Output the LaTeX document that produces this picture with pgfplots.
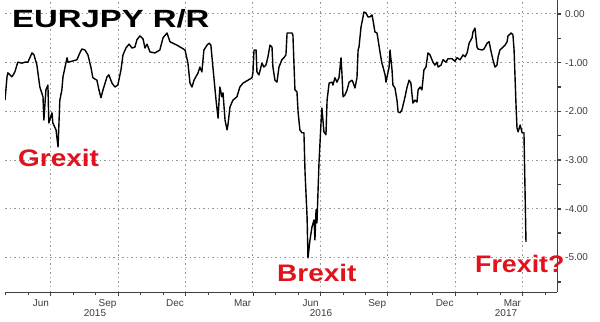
\documentclass[border=0pt]{standalone}
\usepackage{fontspec}
\setmainfont{Liberation Sans}
\usepackage{graphicx}
\usepackage{pgfplots}
\pgfplotsset{compat=1.18}
\definecolor{lblred}{RGB}{226,18,28}
\definecolor{txtgray}{RGB}{60,60,60}
\definecolor{gridgray}{RGB}{150,150,150}
\begin{document}
\begin{tikzpicture}
\useasboundingbox (-5bp,-30bp) rectangle (595bp,292bp);
\begin{axis}[
  at={(0,0)}, anchor=south west,
  width=552bp, height=292bp, scale only axis,
  xmin=2.97, xmax=27.53, ymin=-5.71, ymax=0.287,
  axis x line*=bottom, axis y line*=right,
  axis line style={black!75, line width=0.8bp},
  xtick={5,8,11,14,17,20,23,26},
  xticklabels={Jun,Sep,Dec,Mar,Jun,Sep,Dec,Mar},
  minor xtick={3,4,...,27},
  ytick={-5,-4,-3,-2,-1,0},
  yticklabels={-5.00,-4.00,-3.00,-2.00,-1.00,0.00},
  minor ytick={-5.5,-4.5,-3.5,-2.5,-1.5,-0.5},
  tick align=outside,
  major tick length=4bp, minor tick length=3.5bp,
  every tick/.style={black!75, line width=0.7bp},
  ytick style={line width=1.6bp},
  every minor tick/.append style={line width=0.6bp},
  grid=major,
  major grid style={draw=gridgray, line width=1bp, dash pattern=on 1.5bp off 3bp},
  xticklabel style={anchor=north east, inner xsep=1.5bp, font=\fontsize{10}{12}\selectfont, text=txtgray},
  yticklabel style={anchor=west, inner xsep=4bp, font=\fontsize{10}{12}\selectfont, text=txtgray},
  /pgf/number format/assume math mode=true,
]
\addplot[black, line width=1.4bp, line join=round] coordinates {
(2.97,-1.77) (3.06,-1.29) (3.10,-1.21) (3.28,-1.29) (3.41,-1.19) (3.50,-1.05) (3.54,-0.99)
(3.72,-1.01) (3.86,-0.99) (3.99,-0.99) (4.17,-0.80) (4.26,-0.84) (4.39,-1.05) (4.52,-1.50)
(4.66,-1.70) (4.70,-2.18) (4.79,-1.56) (4.88,-1.46) (4.92,-2.24) (5.06,-2.03) (5.10,-2.24)
(5.24,-2.38) (5.33,-2.73) (5.41,-1.77) (5.50,-1.56) (5.55,-1.29) (5.73,-0.90) (5.77,-0.99)
(5.95,-0.97) (6.17,-0.94) (6.30,-0.80) (6.39,-0.72) (6.53,-0.74) (6.66,-0.84) (6.79,-1.09)
(6.88,-1.31) (7.06,-1.36) (7.15,-1.56) (7.24,-1.72) (7.33,-1.56) (7.51,-1.29) (7.59,-1.25)
(7.73,-1.42) (7.86,-1.50) (7.99,-1.46) (8.13,-1.15) (8.22,-0.84) (8.35,-0.70) (8.49,-0.62)
(8.62,-0.70) (8.75,-0.68) (8.84,-0.53) (8.97,-0.45) (9.11,-0.51) (9.20,-0.70) (9.29,-0.62)
(9.42,-0.78) (9.64,-0.80) (9.86,-0.74) (10.00,-0.49) (10.18,-0.39) (10.31,-0.57) (10.44,-0.60)
(10.62,-0.64) (10.84,-0.70) (10.98,-0.74) (11.11,-1.01) (11.20,-1.42) (11.29,-1.50) (11.38,-1.36)
(11.56,-1.21) (11.64,-1.09) (11.73,-1.19) (11.82,-0.74) (11.96,-0.64) (12.05,-0.60) (12.13,-0.64)
(12.22,-1.09) (12.36,-1.77) (12.45,-2.14) (12.53,-1.50) (12.62,-1.70) (12.67,-1.62) (12.76,-2.18)
(12.85,-2.38) (12.89,-2.28) (12.98,-1.91) (13.11,-1.77) (13.29,-1.70) (13.42,-1.50) (13.56,-1.42)
(13.78,-1.36) (13.96,-1.31) (14.00,-1.21) (14.05,-0.74) (14.14,-0.74) (14.18,-1.19) (14.27,-1.25)
(14.40,-1.01) (14.49,-1.09) (14.58,-1.05) (14.67,-0.88) (14.76,-0.64) (14.85,-0.68) (14.89,-1.09)
(14.98,-1.36) (15.07,-1.40) (15.16,-1.09) (15.29,-0.94) (15.38,-0.90) (15.47,-0.84) (15.52,-0.39)
(15.61,-0.39) (15.74,-0.39) (15.78,-0.43) (15.87,-1.56) (15.96,-1.60) (16.01,-2.01) (16.09,-2.38)
(16.18,-2.44) (16.27,-2.44) (16.32,-3.26) (16.41,-4.17) (16.45,-5.01) (16.54,-4.64) (16.63,-4.37)
(16.72,-4.23) (16.76,-4.64) (16.81,-4.02) (16.85,-4.29) (16.94,-3.06) (17.03,-2.24) (17.07,-1.93)
(17.16,-2.42) (17.25,-2.48) (17.30,-1.77) (17.39,-1.42) (17.52,-1.40) (17.56,-1.46) (17.65,-1.31)
(17.74,-1.40) (17.83,-1.31) (17.92,-0.90) (17.96,-1.21) (18.01,-1.70) (18.10,-1.66) (18.19,-1.56)
(18.28,-1.40) (18.41,-1.36) (18.45,-1.40) (18.54,-1.52) (18.63,-1.31) (18.68,-0.74) (18.72,-0.68)
(18.81,-0.27) (18.90,-0.06) (18.94,0.04) (19.03,0.02) (19.12,-0.06) (19.21,-0.06) (19.30,-0.02)
(19.34,-0.12) (19.43,-0.37) (19.52,-0.39) (19.57,-0.53) (19.66,-0.80) (19.74,-1.01) (19.79,-1.09)
(19.88,-1.25) (19.92,-1.40) (19.97,-1.29) (20.06,-1.09) (20.10,-0.74) (20.19,-1.15) (20.23,-1.46)
(20.32,-1.52) (20.41,-1.77) (20.46,-2.01) (20.54,-2.03) (20.63,-1.97) (20.77,-1.70) (20.86,-1.50)
(20.95,-1.36) (21.03,-1.42) (21.08,-1.66) (21.12,-1.83) (21.21,-1.77) (21.30,-1.81) (21.35,-1.56)
(21.44,-1.50) (21.52,-1.56) (21.61,-1.15) (21.70,-1.09) (21.79,-0.80) (21.88,-0.84) (22.01,-0.99)
(22.10,-1.05) (22.19,-0.99) (22.24,-1.09) (22.37,-1.05) (22.46,-0.94) (22.59,-0.99) (22.68,-0.92)
(22.86,-0.92) (22.99,-0.97) (23.08,-0.90) (23.22,-0.94) (23.35,-0.84) (23.44,-0.88) (23.53,-0.80)
(23.62,-0.60) (23.75,-0.49) (23.79,-0.37) (23.88,-0.29) (23.97,-0.68) (24.02,-0.72) (24.19,-0.74)
(24.28,-0.72) (24.42,-0.60) (24.51,-0.57) (24.60,-0.78) (24.68,-0.94) (24.77,-1.09) (24.86,-1.05)
(24.91,-0.88) (24.99,-0.74) (25.13,-0.68) (25.22,-0.64) (25.31,-0.57) (25.35,-0.45) (25.40,-0.43)
(25.49,-0.39) (25.57,-0.43) (25.62,-0.74) (25.71,-1.91) (25.75,-2.34) (25.80,-2.42) (25.89,-2.28)
(25.98,-2.44) (26.06,-2.44) (26.15,-4.68)
};
\draw[black!60, line width=0.6bp] ([yshift=-13bp]axis cs:11,-5.71) -- ([yshift=-30bp]axis cs:11,-5.71);
\draw[black!60, line width=0.6bp] ([yshift=-13bp]axis cs:23,-5.71) -- ([yshift=-30bp]axis cs:23,-5.71);
\end{axis}
\node[anchor=base west, inner sep=0] at (7bp,264bp) {\scalebox{1.32}[1]{\fontsize{25}{30}\selectfont\bfseries EURJPY R/R}};
\node[anchor=base west, inner sep=0, text=lblred] at (13bp,125bp) {\scalebox{1.17}[1]{\fontsize{24}{28}\selectfont\bfseries Grexit}};
\node[anchor=base west, inner sep=0, text=lblred] at (272bp,11bp) {\scalebox{1.17}[1]{\fontsize{24}{28}\selectfont\bfseries Brexit}};
\node[anchor=base west, inner sep=0, text=lblred] at (470bp,20bp) {\scalebox{1.12}[1]{\fontsize{24}{28}\selectfont\bfseries Frexit?}};
\node[text=txtgray, font=\fontsize{10}{12}\selectfont] at (90bp,-21bp) {2015};
\node[text=txtgray, font=\fontsize{10}{12}\selectfont] at (316bp,-21bp) {2016};
\node[text=txtgray, font=\fontsize{10}{12}\selectfont] at (501bp,-21bp) {2017};
\end{tikzpicture}
\end{document}
